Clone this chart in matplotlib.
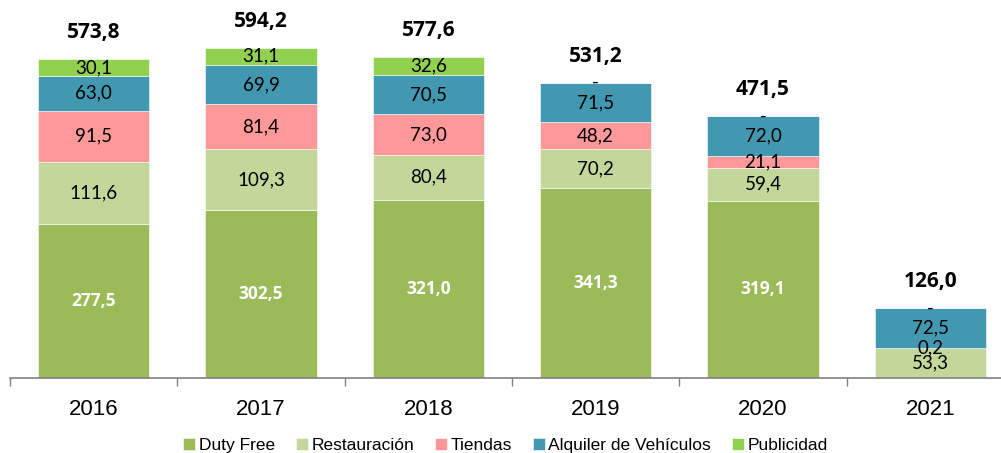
import numpy as np
import matplotlib
matplotlib.use("Agg")
from matplotlib import pyplot as plt

years = ["2016", "2017", "2018", "2019", "2020", "2021"]
series = ["Duty Free", "Restauración", "Tiendas", "Alquiler de Vehículos", "Publicidad"]
duty_free = [277.5, 302.5, 321.0, 341.3, 319.1, 0.0]
restauracion = [111.6, 109.3, 80.4, 70.2, 59.4, 53.3]
tiendas = [91.5, 81.4, 73.0, 48.2, 21.1, 0.2]
alquiler = [63.0, 69.9, 70.5, 71.5, 72.0, 72.5]
publicidad = [30.1, 31.1, 32.6, 0.0, 0.0, 0.0]
totals = [573.8, 594.2, 577.6, 531.2, 471.5, 126.0]

colors = ["#9BBB59", "#C4D79B", "#FF9898", "#4298B0", "#92D050"]

def fmt(v):
    return ("%.1f" % v).replace(".", ",")

fig = plt.figure(figsize=(10.01, 4.53), dpi=100)
ax = fig.add_axes([10 / 1001, 75 / 453, 1004 / 1001, 378 / 453])

x = np.arange(len(years))
data = [duty_free, restauracion, tiendas, alquiler, publicidad]
bottom = np.zeros(len(years))
lab_font = ["Lato", "DejaVu Sans"]
bold_font = ["Open Sans", "DejaVu Sans"]
for k, vals in enumerate(data):
    vals = np.array(vals)
    ax.bar(x, vals, 0.665, bottom=bottom, color=colors[k], label=series[k],
           edgecolor="white", linewidth=0.4)
    for i, v in enumerate(vals):
        if k == 0:
            if v > 0:
                ax.text(x[i], bottom[i] + v / 2, fmt(v), ha="center", va="center",
                        color="white", fontsize=12.5, fontweight="bold", family=bold_font)
        elif v == 0:
            ax.text(x[i], bottom[i], "-", ha="center", va="center",
                    color="black", fontsize=13.5, family=lab_font)
        else:
            ax.text(x[i], bottom[i] + v / 2, fmt(v), ha="center", va="center",
                    color="black", fontsize=13.5, family=lab_font)
    bottom += vals

for i, t in enumerate(totals):
    ax.text(x[i], bottom[i] + 47, fmt(t), ha="center", va="center",
            color="black", fontsize=15, fontweight="bold", family=bold_font)

ax.set_xlim(-0.5, 5.5)
ax.set_ylim(0, 680)
for s in ["top", "right", "left"]:
    ax.spines[s].set_visible(False)
ax.spines["bottom"].set_color("#808080")
ax.spines["bottom"].set_linewidth(1.2)
ax.set_yticks([])
ax.set_xticks(np.arange(-0.5, 6.0, 1.0))
ax.set_xticklabels([])
ax.set_xticks(x, minor=True)
ax.set_xticklabels(years, minor=True, fontsize=16, family="Liberation Sans")
ax.tick_params(axis="x", which="major", length=6, color="#808080", width=1)
ax.tick_params(axis="x", which="minor", length=0, pad=15)

ax.legend(loc="center", bbox_to_anchor=(0.495 * 1001 / 1004, -0.178), ncol=5, frameon=False,
          handlelength=0.7, handleheight=0.7, handletextpad=0.2,
          columnspacing=1.2, prop={"family": "Liberation Sans", "size": 12.5})

fig.savefig("out.png", dpi=100)
